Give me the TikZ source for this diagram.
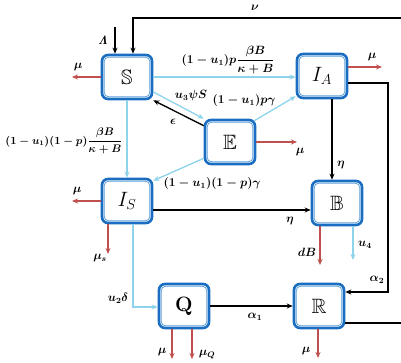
\documentclass[tikz,border=0pt]{standalone}
\usepackage{amsmath,amssymb}
\usetikzlibrary{arrows.meta}
\definecolor{bxblue}{HTML}{1A6DC0}
\definecolor{bxin}{HTML}{5A9FDB}
\definecolor{lblue}{HTML}{8DD3EA}
\definecolor{myred}{HTML}{C0504D}
\tikzset{
  comp/.style={draw=bxblue, line width=2.6pt, rounded corners=6pt, minimum width=50pt, minimum height=44pt, fill=white, font=\huge, inner sep=0pt},
  innerb/.style={draw=bxin, line width=0.8pt, rounded corners=4pt},
  ar/.style={-{Stealth[length=6pt,width=5pt]}, line width=1.3pt, black},
  bar/.style={-{Stealth[length=6pt,width=5pt]}, line width=1.3pt, lblue},
  rar/.style={-{Stealth[length=6pt,width=5pt]}, line width=1.3pt, myred},
  pl/.style={line width=1.3pt, black},
  lab/.style={font=\fontsize{11.5}{13}\selectfont\boldmath, inner sep=0pt},
  labs/.style={font=\fontsize{10.6}{12}\selectfont\boldmath, inner sep=0pt},
}
\begin{document}
\begin{tikzpicture}[x=1pt,y=-1pt]
\useasboundingbox (0,0) rectangle (401,363);
% compartments
\node[comp] (S)  at (127,77)  {$\mathbb{S}$};
\node[comp] (IA) at (322,76)  {$I_A$};
\node[comp] (E)  at (230,142) {$\mathbb{E}$};
\node[comp] (IS) at (127,201) {$I_S$};
\node[comp] (B)  at (337,203) {$\mathbb{B}$};
\node[comp] (Q)  at (184,306) {$\mathbf{Q}$};
\node[comp] (R)  at (319,306) {$\mathbb{R}$};
\foreach \n in {S,IA,E,IS,B,Q,R}
  \draw[innerb] ([shift={(3.6pt,-3.6pt)}]\n.north west) rectangle ([shift={(-3.6pt,3.6pt)}]\n.south east);
% coordinates
\coordinate (lam) at (115,27);
\coordinate (nuTR) at (401,18);
\coordinate (nuT) at (133,18);
\coordinate (nuBR) at (401,323);
\coordinate (a2) at (388,83);
\coordinate (a2b) at (388,292);
\coordinate (Emu) at (297,143);
\coordinate (ISmu) at (72,202);
\coordinate (Smu) at (72,78);
\coordinate (IAmu) at (382,67);
\coordinate (mus) at (108,254);
\coordinate (qd) at (133,307);
\coordinate (db) at (320,265);
\coordinate (u4) at (353,260);
\coordinate (qmu) at (172,359);
\coordinate (qmuq) at (192,359);
\coordinate (rmu) at (318,358);
% black connectors
\draw[ar] (lam) -- (lam |- S.north);
\draw[ar] (nuTR) -- (nuT) -- (nuT |- S.north);
\draw[pl] (R.east |- nuBR) -- (nuBR);
\draw[ar] (IA.east |- a2) -- (a2) -- (a2b) -- (R.east |- a2b);
\draw[ar] ([xshift=10pt]IA.south) -- ([xshift=10pt]IA.south |- B.north);
\draw[ar] ([yshift=-7pt]E.north west) -- (S.south east);
\draw[ar] ([yshift=-9pt]IS.east) -- ([yshift=-9pt]IS.east -| B.west);
\draw[ar] (Q.east) -- (R.west);
% light blue connectors
\draw[bar] (S.east) -- (S.east -| IA.west);
\draw[bar] ([yshift=-15pt]S.east) -- (E.north west);
\draw[bar] ([shift={(-2pt,-2pt)}]E.north east) -- ([yshift=3pt]IA.south west);
\draw[bar] ([yshift=7pt]E.south west) -- ([yshift=-3pt]IS.north east);
\draw[bar] (S.south) -- (IS.north);
\draw[bar] (IS.south -| qd) -- (qd) -- (qd -| Q.west);
\draw[bar] (B.south -| u4) -- (u4);
% red connectors
\draw[rar] (E.east) -- (E.east -| Emu);
\draw[rar] (IS.west) -- (IS.west -| ISmu);
\draw[rar] (S.west) -- (S.west -| Smu);
\draw[rar] ([yshift=9pt]IA.east) -- ([yshift=9pt]IA.east -| IAmu);
\draw[rar] (IS.south -| mus) -- (mus);
\draw[rar] (B.south -| db) -- (db);
\draw[rar] (Q.south -| qmu) -- (qmu);
\draw[rar] (Q.south -| qmuq) -- (qmuq);
\draw[rar] (R.south -| rmu) -- (rmu);
% labels
\node[lab] (lLam) at (103,40) {$\mathit{\Lambda}$};
\node[lab] (lnu) at (255,8) {$\nu$};
\node[lab] (lSIA) at (228,60) {$(1-u_1)p\dfrac{\beta B}{\kappa+B}$};
\node[lab] (lu3) at (191,96) {$u_3\psi S$};
\node[lab] (leps) at (173,122) {$\epsilon$};
\node[lab] (lpg) at (244,101) {$(1-u_1)p\gamma$};
\node[lab] (lEmu) at (300,152) {$\mu$};
\node[lab] (lEIS) at (212,184) {$(1-u_1)(1-p)\gamma$};
\node[labs] (lSIS) at (64,141) {$(1-u_1)(1-p)\dfrac{\beta B}{\kappa+B}$};
\node[lab] (leta1) at (341,165) {$\eta$};
\node[lab] (leta2) at (290,221) {$\eta$};
\node[lab] (lSmu) at (78,67) {$\mu$};
\node[lab] (lISmu) at (77,191) {$\mu$};
\node[lab] (lIAmu) at (372,57) {$\mu$};
\node[lab] (lmus) at (100,258) {$\mu_s$};
\node[lab] (lu2) at (118,298) {$u_2\delta$};
\node[lab] (ldB) at (307,252) {$dB$};
\node[lab] (lu4) at (365,245) {$u_4$};
\node[lab] (la1) at (255,317) {$\alpha_1$};
\node[lab] (la2) at (377,280) {$\alpha_2$};
\node[lab] (lQmu) at (162,352) {$\mu$};
\node[lab] (lQmuQ) at (207,355) {$\mu_Q$};
\node[lab] (lRmu) at (306,351) {$\mu$};
\end{tikzpicture}
\end{document}
